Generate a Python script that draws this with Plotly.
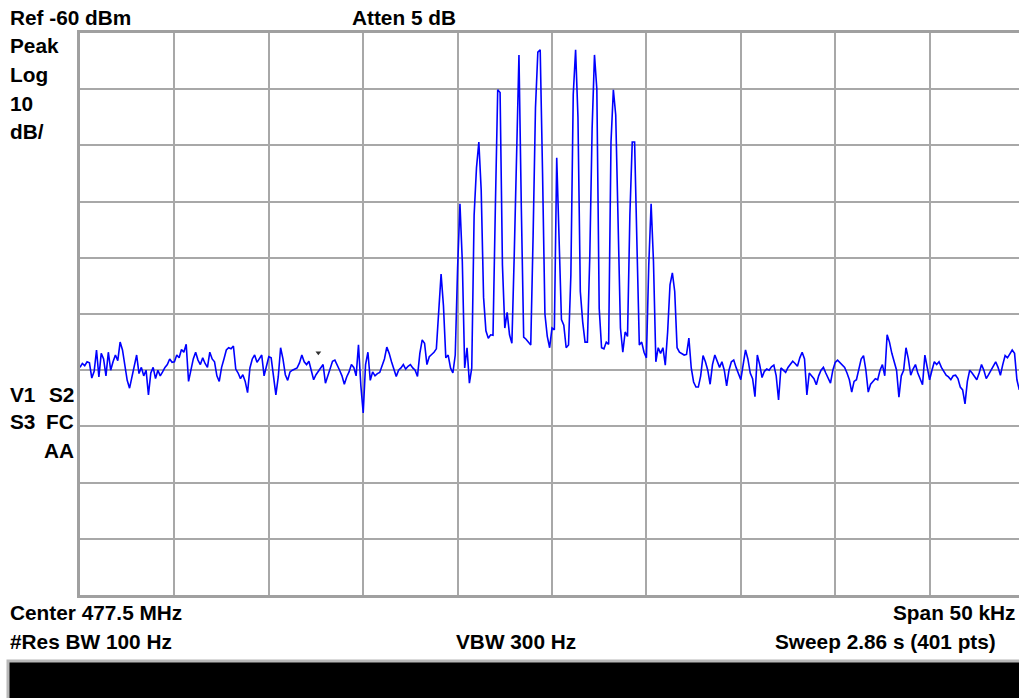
import plotly.graph_objects as go

# ---- instrument settings ----
center_mhz = 477.5
span_khz = 50
n_pts = 401
ref_dbm = -60
db_per_div = 10
n_div_y = 10

# ---- trace values, dBm (401 sweep points) ----
trace_dbm = [
    -119.5, -118.8, -119.2, -118.5, -118.7, -121.4, -120.2, -116.4, -121.2, -117.0,
    -118.0, -121.0, -116.8, -120.0, -118.5, -117.3, -118.3, -115.0, -116.4, -118.8,
    -121.8, -123.2, -121.0, -119.0, -117.3, -120.6, -119.5, -121.0, -120.0, -124.4,
    -120.5, -119.5, -121.5, -120.0, -121.0, -120.3, -119.5, -119.0, -118.0, -118.6,
    -118.5, -117.3, -117.8, -116.3, -116.8, -115.4, -122.0, -120.0, -118.0, -116.8,
    -118.2, -119.0, -117.8, -118.8, -119.5, -116.8, -118.0, -118.5, -121.0, -122.0,
    -119.5, -118.0, -116.4, -116.0, -116.2, -115.7, -119.8, -120.5, -121.5, -120.8,
    -122.0, -124.0, -119.6, -118.0, -117.3, -118.6, -118.0, -117.3, -121.0, -119.2,
    -117.6, -117.8, -121.2, -124.4, -121.2, -116.0, -118.0, -120.8, -121.8, -120.3,
    -120.0, -119.8, -119.6, -118.7, -117.3, -118.5, -119.0, -118.4, -120.0, -121.7,
    -120.8, -120.2, -119.6, -119.0, -122.3, -121.0, -120.0, -118.4, -118.2, -119.0,
    -120.0, -121.0, -122.5, -121.2, -120.3, -119.0, -119.5, -121.0, -115.5, -122.7,
    -127.6, -119.0, -116.8, -121.8, -120.3, -121.0, -120.6, -120.4, -119.0, -118.0,
    -115.9, -117.0, -118.5, -120.0, -121.1, -120.0, -119.6, -119.0, -119.8, -119.3,
    -119.0, -119.6, -120.0, -121.1, -117.0, -114.6, -115.2, -119.0, -117.6, -117.2,
    -116.8, -116.2, -109.0, -102.9, -108.5, -117.8, -117.3, -119.6, -120.5, -117.3,
    -101.8, -90.4, -100.7, -119.6, -116.0, -122.3, -119.6, -92.4, -84.0, -79.4,
    -88.0, -107.0, -113.0, -114.3, -113.7, -113.8, -91.0, -70.1, -70.6, -101.3,
    -112.5, -109.7, -113.7, -115.2, -99.5, -79.0, -63.9, -91.0, -114.1, -114.5,
    -115.0, -115.5, -96.0, -73.3, -63.4, -63.0, -85.0, -110.0, -114.0, -116.0,
    -112.5, -112.8, -82.2, -99.0, -111.0, -112.0, -116.0, -115.5, -103.0, -71.0,
    -63.0, -75.0, -106.0, -111.4, -115.0, -115.0, -100.0, -77.0, -63.9, -70.0,
    -109.0, -116.0, -116.2, -115.0, -115.4, -79.4, -70.1, -74.6, -95.4, -112.5,
    -116.8, -113.2, -114.0, -92.4, -79.4, -79.4, -97.7, -115.5, -115.0, -116.8,
    -117.8, -101.3, -90.4, -100.7, -118.5, -116.0, -117.0, -116.0, -119.1, -113.2,
    -104.8, -102.7, -106.0, -116.0, -116.8, -117.0, -117.3, -117.2, -114.3, -119.6,
    -122.1, -123.0, -123.0, -121.0, -117.4, -118.5, -120.0, -122.5, -119.0, -117.3,
    -118.5, -119.5, -118.5, -120.0, -122.8, -120.0, -118.5, -118.2, -119.5, -120.6,
    -121.7, -119.0, -116.4, -118.0, -120.5, -121.5, -124.7, -117.3, -119.0, -121.3,
    -120.2, -119.8, -120.0, -119.4, -119.1, -121.0, -125.3, -119.6, -120.0, -120.4,
    -119.5, -119.0, -118.4, -118.8, -119.3, -117.8, -116.8, -118.0, -124.4, -120.5,
    -121.0, -121.5, -122.6, -121.0, -120.0, -119.5, -120.5, -121.5, -122.3, -120.0,
    -118.6, -118.2, -118.6, -119.0, -119.5, -120.5, -121.7, -123.9, -122.0, -121.7,
    -119.5, -118.0, -117.4, -120.0, -123.9, -122.5, -122.0, -121.5, -121.7, -120.0,
    -119.0, -121.0, -113.7, -115.0, -117.0, -118.5, -120.0, -124.8, -121.0, -120.0,
    -116.0, -118.0, -120.9, -119.8, -119.0, -120.5, -121.5, -122.6, -117.3, -119.5,
    -121.7, -120.0, -118.5, -119.0, -118.5, -119.5, -120.2, -120.9, -121.2, -121.7,
    -121.0, -120.9, -121.5, -123.0, -123.5, -126.0, -122.0, -120.0, -120.5, -121.2,
    -121.7, -120.5, -119.0, -120.0, -121.5, -120.8, -120.0, -119.4, -118.5, -119.5,
    -120.9, -119.0, -117.4, -117.8, -117.0, -116.4, -117.0, -121.7, -123.5, -121.0,
    -119.5,
]

# analyzer marker (small "v" above the trace)
marker_index = 101
marker_dbm = -116.9

# ---- screen annotation texts ----
top_labels = ["Ref -60 dBm", "Atten 5 dB"]
left_labels = ["Peak", "Log", "10", "dB/"]
status_rows = [["V1", "S2"], ["S3", "FC"], ["", "AA"]]
bottom_row1 = ["Center 477.5 MHz", "Span 50 kHz"]
bottom_row2 = ["#Res BW 100 Hz", "VBW 300 Hz", "Sweep 2.86 s (401 pts)"]

# sweep frequencies (instrument x grid)
f_start = center_mhz - span_khz / 2000.0
f_step = span_khz / 1000.0 / (n_pts - 1)
freq_mhz = [f_start + i * f_step for i in range(n_pts)]

W, H = 1019, 698
L, T, B = 80, 33, 595
PW = W - L
PH = B - T
full_w = 944.0  # full graticule width in px (right edge cut off by the window)


def px(x):  # x in window pixels
    return (x - L) / PW


def py(y):  # y in window pixels
    return (B - y) / PH


fig = go.Figure()
fig.add_trace(go.Scatter(
    x=freq_mhz, y=trace_dbm, mode="lines",
    line=dict(color="#0000ff", width=1.6), hoverinfo="skip", showlegend=False,
))
fig.add_trace(go.Scatter(
    x=[freq_mhz[marker_index]], y=[marker_dbm], mode="markers",
    marker=dict(symbol="triangle-down", size=5, color="#303030"),
    hoverinfo="skip", showlegend=False,
))

FONT = dict(family="Liberation Sans, Arial, sans-serif", size=20.8, color="#000000")
ann = []


def label(text, x, y, anchor="left"):
    ann.append(dict(text="<b>%s</b>" % text, x=px(x), y=py(y), xref="paper", yref="paper",
                    xanchor=anchor, yanchor="middle", showarrow=False, font=FONT))


label(top_labels[0], 8, 18)
label(top_labels[1], 350, 18)
for i, t in enumerate(left_labels):
    label(t, 8, 46 + i * 28.5)
status_y = [394, 421, 450]
for row, yv in zip(status_rows, status_y):
    if row[0]:
        label(row[0], 8, yv)
    label(row[1], 76, yv, anchor="right")
label(bottom_row1[0], 8, 612)
label(bottom_row1[1], 1018, 612, anchor="right")
label(bottom_row2[0], 8, 641)
label(bottom_row2[1], 454, 641)
label(bottom_row2[2], 773, 641)

shapes = [dict(type="rect", xref="paper", yref="paper",
               x0=px(8), x1=px(1040), y0=py(661), y1=py(710),
               fillcolor="#000000", line=dict(color="#b8b8b8", width=3), layer="above")]

x_end = f_start + (span_khz / 1000.0) * PW / full_w

fig.update_layout(
    width=W, height=H,
    margin=dict(l=L, r=0, t=T, b=H - B, pad=0),
    paper_bgcolor="#ffffff", plot_bgcolor="#ffffff",
    annotations=ann, shapes=shapes,
    xaxis=dict(range=[f_start, x_end], tick0=f_start, dtick=span_khz / 10000.0,
               showgrid=True, gridcolor="#a8a8a8", gridwidth=2,
               showticklabels=False, ticks="", zeroline=False,
               showline=True, linecolor="#a0a0a0", linewidth=3, mirror=True, fixedrange=True),
    yaxis=dict(range=[ref_dbm - n_div_y * db_per_div, ref_dbm], tick0=ref_dbm, dtick=db_per_div,
               showgrid=True, gridcolor="#a8a8a8", gridwidth=2,
               showticklabels=False, ticks="", zeroline=False,
               showline=True, linecolor="#a0a0a0", linewidth=3, mirror=False, fixedrange=True),
)

fig.write_html("out.html", config={"displayModeBar": False},
               post_script="document.body.style.margin='0px';document.body.style.overflow='hidden';")
